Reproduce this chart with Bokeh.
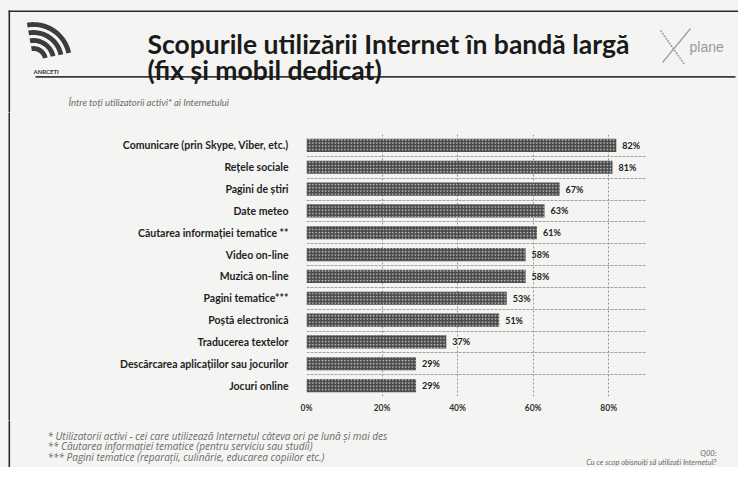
import numpy as np
from bokeh.plotting import figure
from bokeh.layouts import column, row
from bokeh.models import (Range1d, FixedTicker, PrintfTickFormatter, LabelSet, ColumnDataSource)
from bokeh.core.properties import value
from bokeh.embed import file_html
from bokeh.resources import INLINE

# ---------------- data ----------------
categories = [
    "Comunicare (prin Skype, Viber, etc.)",
    "Rețele sociale",
    "Pagini de știri",
    "Date meteo",
    "Căutarea informației tematice **",
    "Video on-line",
    "Muzică on-line",
    "Pagini tematice***",
    "Poștă electronică",
    "Traducerea textelor",
    "Descărcarea aplicațiilor sau jocurilor",
    "Jocuri online",
]
values = [82, 81, 67, 63, 61, 58, 58, 53, 51, 37, 29, 29]
x_ticks = [0, 20, 40, 60, 80]

title_lines = ["Scopurile utilizării Internet în bandă largă", "(fix și mobil dedicat)"]
subtitle = "Între toți utilizatorii activi* ai Internetului"
footnotes = [
    "* Utilizatorii activi - cei care utilizează Internetul câteva ori pe lună și mai des",
    "**  Căutarea informației tematice (pentru serviciu sau studii)",
    "*** Pagini tematice (reparații, culinărie, educarea copiilor etc.)",
]
question_lines = ["Q00:", "Cu ce scop obișnuiți să utilizați Internetul?"]

# ---------------- layout constants ----------------
W, H = 738, 467
BG = "#f4f4f2"
LINE = "#2a2a2a"
HEAD_H = 112
FOOT_H = 47
MID_H = H - HEAD_H - FOOT_H
STRIP_W = 10
STY = {"background-color": BG}


def no_align(f):
    try:
        f.frame_align = False
    except Exception:
        pass
    return f


def canvas(width, height, y0):
    f = figure(width=width, height=height, x_range=Range1d(0, width),
               y_range=Range1d(y0 + height, y0), output_backend="svg", toolbar_location=None,
               x_axis_type=None, y_axis_type=None, min_border=0,
               min_border_left=0, min_border_right=0, min_border_top=0, min_border_bottom=0,
               background_fill_color=BG, border_fill_color=BG, outline_line_color=None,
               styles=STY)
    f.xgrid.visible = False
    f.ygrid.visible = False
    return no_align(f)


def txt(f, x, y, s, size, color="#1a1a1a", style="normal", font="Lato", align="left"):
    f.text(x=[x], y=[y], text=[s], text_font=value(font), text_font_size=value(size),
           text_font_style=style, text_color=color, text_align=align, text_baseline="alphabetic")


# ---------------- header ----------------
head = canvas(W, HEAD_H, 0)
head.quad(left=[8, 8], right=[W, 9.6], top=[10, 10], bottom=[11.6, HEAD_H + 2], fill_color=LINE, line_color=None)
head.quad(left=[35], right=[735], top=[75.5], bottom=[77.2], fill_color="#3a3a3a", line_color=None)

# ANRCETI-like logo (concentric arcs)
cx, cy = 33, 60
lx, ly = [], []
for r in [12, 20, 28, 36]:
    t = np.radians(np.linspace(12, 100, 30))
    xo = cx + (r + 2.4) * np.cos(t)
    yo = cy - (r + 2.4) * np.sin(t)
    xi = cx + (r - 2.4) * np.cos(t[::-1])
    yi = cy - (r - 2.4) * np.sin(t[::-1])
    lx.append(list(np.concatenate([xo, xi])))
    ly.append(list(np.concatenate([yo, yi])))
head.patches(xs=lx, ys=ly, fill_color="#3c3c3c", line_color=None)
txt(head, 33, 71, "ANRCETI", "6px", "#333333", "bold")

txt(head, 147, 43, title_lines[0], "26.5px", "#1a1a1a", "bold")
txt(head, 147, 69, title_lines[1], "26.5px", "#1a1a1a", "bold")

# Xplane logo
head.line(x=[660, 684], y=[30, 64], line_color="#a0a0a0", line_width=1.6, line_dash="2 1")
head.line(x=[662, 690], y=[62, 28], line_color="#a0a0a0", line_width=1.3)
txt(head, 689, 46, "plane", "14px", "#9a9a9a", "normal", "Liberation Sans")

txt(head, 68, 102, subtitle, "9.5px", "#6a6a6a", "italic")

# ---------------- chart ----------------
strip = canvas(STRIP_W, MID_H, HEAD_H)
strip.quad(left=[8], right=[9.6], top=[HEAD_H - 2], bottom=[HEAD_H + MID_H + 2], fill_color=LINE, line_color=None)

n = len(categories)
ys = [n - 1 - i for i in range(n)]
src = ColumnDataSource(dict(y=ys, v=values, lbl=[f"{v}%" for v in values]))

FRAME_L, FRAME_R, FRAME_T, FRAME_B = 306, 646, 134, 396
p = figure(width=W - STRIP_W, height=MID_H, x_range=Range1d(0, 90), y_range=Range1d(-0.5, n - 0.5),
           output_backend="svg", toolbar_location=None,
           min_border_left=FRAME_L - STRIP_W, min_border_right=W - FRAME_R,
           min_border_top=FRAME_T - HEAD_H, min_border_bottom=HEAD_H + MID_H - FRAME_B,
           background_fill_color=BG, border_fill_color=BG, outline_line_color=None,
           styles=STY)
no_align(p)

p.hbar(y="y", left=0, right="v", height=0.6, source=src,
       fill_color="#4a4a4a", line_color=None,
       hatch_pattern="dot", hatch_color="#cfcfcf", hatch_scale=3.2, hatch_weight=1.1)

p.add_layout(LabelSet(x="v", y="y", text="lbl", source=src, x_offset=6,
                      text_baseline="middle", text_font=value("Lato"),
                      text_font_style="bold", text_font_size="9px", text_color="#222222"))

p.yaxis.ticker = FixedTicker(ticks=ys)
p.yaxis.major_label_overrides = {y: c for y, c in zip(ys, categories)}
p.yaxis.axis_line_color = None
p.yaxis.major_tick_line_color = None
p.yaxis.minor_tick_line_color = None
p.yaxis.major_label_standoff = 12
p.yaxis.major_label_text_font = "Lato"
p.yaxis.major_label_text_font_style = "bold"
p.yaxis.major_label_text_font_size = "10.5px"
p.yaxis.major_label_text_color = "#1e1e1e"

p.xaxis.ticker = FixedTicker(ticks=x_ticks)
p.xaxis.formatter = PrintfTickFormatter(format="%d%%")
p.xaxis.axis_line_color = None
p.xaxis.major_tick_line_color = None
p.xaxis.minor_tick_line_color = None
p.xaxis.major_label_standoff = 0
p.xaxis.major_label_text_font = "Lato"
p.xaxis.major_label_text_font_style = "bold"
p.xaxis.major_label_text_font_size = "8.5px"
p.xaxis.major_label_text_color = "#333333"

p.xgrid.ticker = FixedTicker(ticks=x_ticks)
p.xgrid.grid_line_color = "#7a7a7a"
p.xgrid.grid_line_dash = "2 2"
p.xgrid.grid_line_width = 0.8
p.ygrid.ticker = FixedTicker(ticks=[k + 0.5 for k in range(-1, n)])
p.ygrid.grid_line_color = "#8f8f8f"
p.ygrid.grid_line_dash = "3 1"
p.ygrid.grid_line_width = 0.8

# ---------------- footer ----------------
foot = canvas(W, FOOT_H, HEAD_H + MID_H)
foot.quad(left=[8], right=[9.6], top=[HEAD_H + MID_H - 2], bottom=[H], fill_color=LINE, line_color=None)
for k, fn in enumerate(footnotes):
    txt(foot, 47, 435 + k * 10.5, fn, "10px", "#6a6a6a", "italic", "Open Sans")
txt(foot, 716, 453, question_lines[0], "7.5px", "#6a6a6a", "italic", align="right")
txt(foot, 716, 462, question_lines[1], "7.5px", "#6a6a6a", "italic", align="right")

layout = column(head, row(strip, p, spacing=0, styles=STY), foot, spacing=0, styles=STY)
open("out.html", "w").write(file_html(layout, INLINE))
